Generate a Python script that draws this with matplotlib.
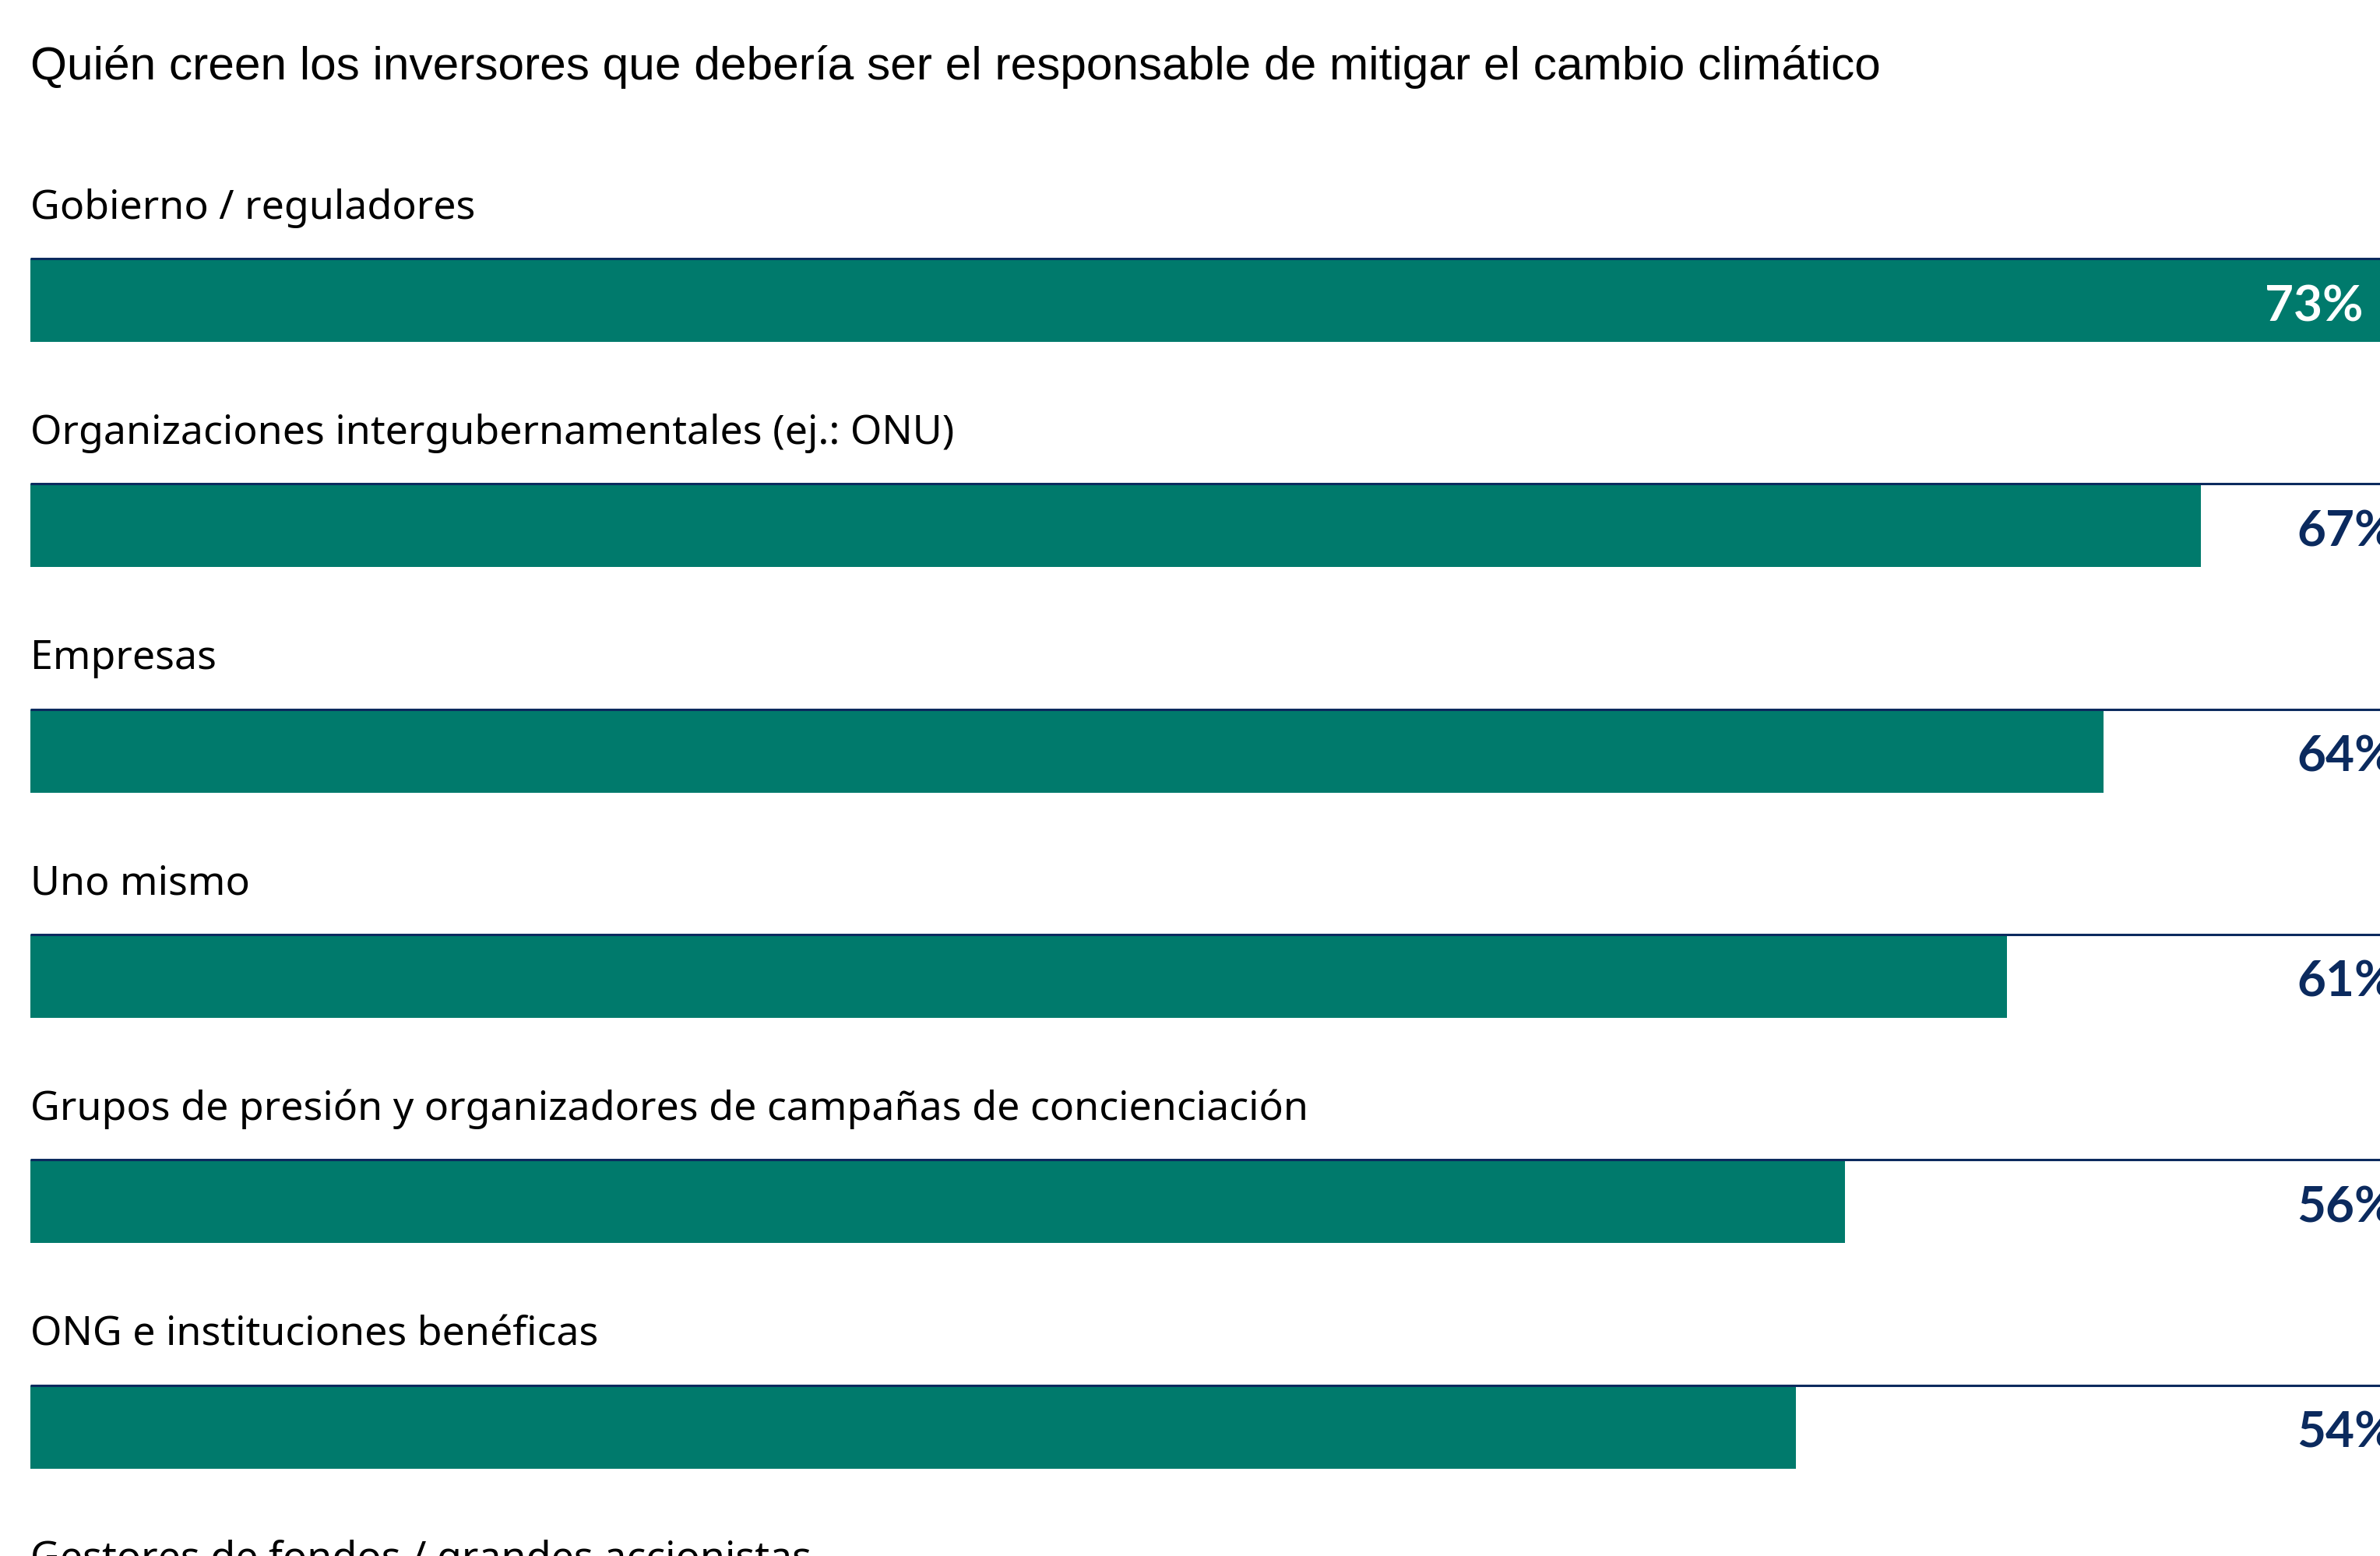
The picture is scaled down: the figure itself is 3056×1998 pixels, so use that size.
import matplotlib.pyplot as plt

title = "Quién creen los inversores que debería ser el responsable de mitigar el cambio climático"
categories = [
    "Gobierno / reguladores",
    "Organizaciones intergubernamentales (ej.: ONU)",
    "Empresas",
    "Uno mismo",
    "Grupos de presión y organizadores de campañas de concienciación",
    "ONG e instituciones benéficas",
    "Gestores de fondos / grandes accionistas",
]
# the last row's bar lies below the visible area
values = [73, 67, 64, 61, 56, 54.5]
value_labels = ["73%", "67%", "64%", "61%", "56%", "54%"]

teal = "#007A6C"
navy = "#0B2A5E"

W, H = 3056, 1999
fig = plt.figure(figsize=(W / 100, H / 100), dpi=100)
ax = fig.add_axes([0, 0, 1, 1])

# pixel layout: x=0 at 39px, 41.6px per percent; rows 289.3px apart
x0_px, px_per = 39, 41.6
row_px, first_center = 289.3, 386.5
ax.set_xlim(-x0_px / px_per, (W - x0_px) / px_per)
ax.set_ylim((H - first_center) / row_px, -first_center / row_px)
ax.axis("off")

bar_h = 107 / row_px
label_off = (53.5 + 66) / row_px
val_dy = 7 / row_px

for i, cat in enumerate(categories):
    ax.text(0, i - label_off, cat, fontsize=37.4, family="Noto Sans",
            color="black", va="center", ha="left")

for i, v in enumerate(values):
    ax.barh(i, v, height=bar_h, left=0, color=teal, zorder=2)
    ax.plot([0, 80], [i - bar_h / 2, i - bar_h / 2], color=navy, lw=2.2,
            zorder=3, solid_capstyle="butt")
    if v == max(values):
        ax.text(v - 1.0, i + val_dy, value_labels[i], color="white", fontsize=46,
                family="Lato", weight="bold", va="center", ha="right", zorder=4)
    else:
        ax.text(max(values), i + val_dy, value_labels[i], color=navy, fontsize=46,
                family="Lato", weight="bold", va="center", ha="right", zorder=4)

fig.text(x0_px / W, 1 - 86 / H, title, fontsize=43.5, family="Liberation Sans",
         color="black", va="center", ha="left")

fig.savefig("out.png", dpi=100, facecolor="white")
